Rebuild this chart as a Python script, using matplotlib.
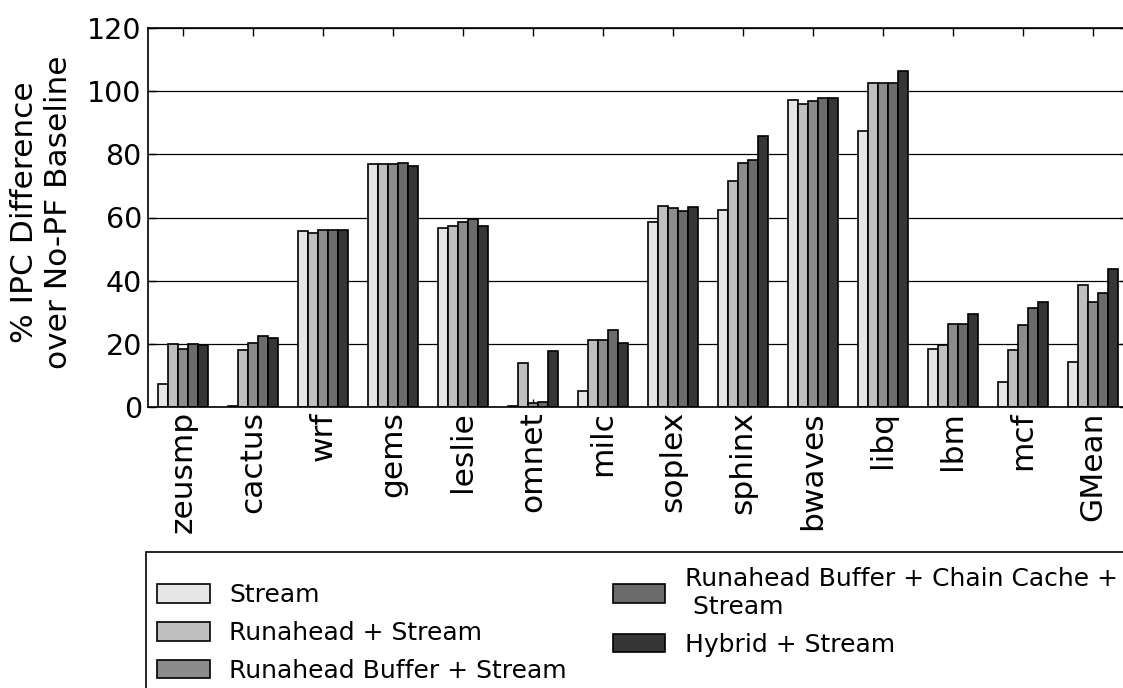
import numpy as np
import matplotlib.pyplot as plt
from matplotlib.patches import Rectangle

benchmarks = ['zeusmp', 'cactus', 'wrf', 'gems', 'leslie', 'omnet', 'milc',
              'soplex', 'sphinx', 'bwaves', 'libq', 'lbm', 'mcf', 'GMean']

stream = [7.4, 0.2, 55.6, 76.8, 56.8, 0.3, 5.1, 58.5, 62.4, 97.3, 87.3, 18.4, 8.0, 14.2]
runahead = [19.8, 18.2, 55.1, 76.8, 57.4, 14.0, 21.2, 63.6, 71.4, 95.9, 102.6, 19.6, 18.2, 38.5]
ra_buffer = [18.5, 20.3, 56.0, 76.8, 58.5, 1.3, 21.2, 63.1, 77.4, 97.0, 102.6, 26.3, 26.1, 33.4]
ra_buffer_cc = [19.8, 22.5, 56.0, 77.1, 59.6, 1.6, 24.3, 62.2, 78.1, 97.9, 102.6, 26.3, 31.3, 36.1]
hybrid = [19.5, 21.9, 55.9, 76.2, 57.4, 17.6, 20.4, 63.3, 85.8, 97.9, 106.5, 29.3, 33.3, 43.7]

series = [stream, runahead, ra_buffer, ra_buffer_cc, hybrid]
labels = ['Stream', 'Runahead + Stream', 'Runahead Buffer + Stream',
          'Runahead Buffer + Chain Cache +\n Stream', 'Hybrid + Stream']
colors = ['#e6e6e6', '#bfbfbf', '#8c8c8c', '#6b6b6b', '#363636']

W, H = 1123, 688
fig = plt.figure(figsize=(W / 100, H / 100), dpi=100)
ax = fig.add_axes([148 / W, 1 - 407 / H, 980 / W, 379 / H])

x = np.arange(len(benchmarks))
w = 0.143
for i, (vals, lab, c) in enumerate(zip(series, labels, colors)):
    ax.bar(x + (i - 2) * w, vals, w, color=c, edgecolor='black',
           linewidth=1.2, label=lab)

ax.set_xlim(-0.5, len(benchmarks) - 0.5)
ax.set_ylim(0, 120)
ax.set_yticks(range(0, 121, 20))
ax.set_xticks(x)
ax.set_xticklabels(benchmarks, rotation=90, fontsize=22.5)
ax.tick_params(axis='y', labelsize=20.5, pad=4.5)
ax.tick_params(axis='x', pad=3)
ax.tick_params(direction='in', length=6, width=1, top=True, right=True)
ax.yaxis.grid(True, color='black', linewidth=0.9)
ax.set_axisbelow(True)
for s in ax.spines.values():
    s.set_linewidth(1.2)

ax.set_ylabel('% IPC Difference\nover No-PF Baseline', fontsize=22.5,
              multialignment='center')
ax.yaxis.set_label_coords(-0.077, 0.514)

# legend box runs off the right and bottom edges of the figure
fig.add_artist(Rectangle((146 / W, -0.1), 1.0, 0.1 + 1 - 552 / H,
                         transform=fig.transFigure, fill=False,
                         edgecolor='black', linewidth=1.2))
fig.legend(loc='upper left', bbox_to_anchor=(147 / W, 1 - 557 / H),
           ncol=2, fontsize=18, frameon=False, borderaxespad=0,
           handlelength=2.1, handleheight=0.76, handletextpad=0.78,
           labelspacing=0.55, columnspacing=1.85, borderpad=0.4)

fig.savefig('out.png', dpi=100)
